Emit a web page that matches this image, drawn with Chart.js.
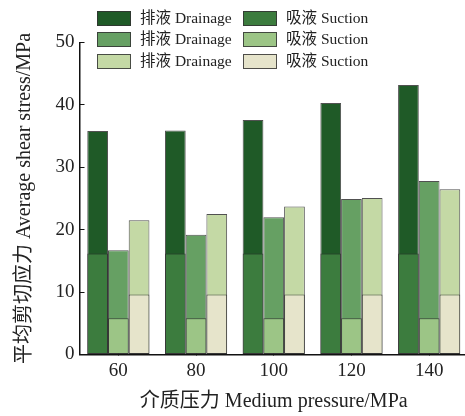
<!DOCTYPE html>
<html>
<head>
<meta charset="utf-8">
<script src="https://cdn.jsdelivr.net/npm/chart.js@4"></script>
<style>
    html, body { margin: 0; padding: 0; background: #fff; overflow: hidden; }
    #wrap { width: 475px; height: 416px; }
</style>
</head>
<body>
<div id="wrap"><canvas id="myChart" width="475" height="416"></canvas></div>
<script>
// 介质压力 Medium pressure/MPa
const categories = ['60', '80', '100', '120', '140'];

// top of each drainage bar (MPa)
const drainage1 = [35.8, 35.9, 37.6, 40.3, 43.2];
const drainage2 = [16.7, 19.2, 22.0, 24.9, 27.8];
const drainage3 = [21.5, 22.5, 23.7, 25.1, 26.5];

// suction part at the bottom of each bar (MPa)
const suction1 = [16.2, 16.2, 16.2, 16.2, 16.2];
const suction2 = [5.8, 5.8, 5.8, 5.8, 5.8];
const suction3 = [9.6, 9.6, 9.6, 9.6, 9.6];

const yTicks = [0, 10, 20, 30, 40, 50];

const serif = "'Liberation Serif', 'Noto Sans CJK SC', serif";
const edge = 'rgba(50, 50, 50, 0.85)';

function bar(label, data, color, stack) {
    return {
        label: label,
        data: data,
        backgroundColor: color,
        borderColor: edge,
        borderWidth: 1,
        borderSkipped: false,
        stack: stack,
        barPercentage: 1.0,
        categoryPercentage: 0.8
    };
}

// suction first so it is painted over the drainage bar of the same stack
const datasets = [
    bar('吸液 Suction', suction1, '#3c7c3e', 'a'),
    bar('吸液 Suction', suction2, '#9cc586', 'b'),
    bar('吸液 Suction', suction3, '#e6e4cb', 'c'),
    bar('排液 Drainage', drainage1, '#1f5a27', 'a'),
    bar('排液 Drainage', drainage2, '#66a063', 'b'),
    bar('排液 Drainage', drainage3, '#c4d9a5', 'c')
];

// legend grid: rows of [drainage, suction]
const legendRows = [[3, 0], [4, 1], [5, 2]];

const gridLegend = {
    id: 'gridLegend',
    afterDraw(chart) {
        const ctx = chart.ctx;
        const colX = [97, 243];
        const rowY = [11, 32, 54];
        ctx.save();
        ctx.font = '15.5px ' + serif;
        ctx.textBaseline = 'middle';
        legendRows.forEach((row, r) => {
            row.forEach((di, c) => {
                const ds = chart.data.datasets[di];
                ctx.fillStyle = ds.backgroundColor;
                ctx.fillRect(colX[c], rowY[r], 34, 15);
                ctx.strokeStyle = edge;
                ctx.lineWidth = 1;
                ctx.strokeRect(colX[c] + 0.5, rowY[r] + 0.5, 33, 14);
                ctx.fillStyle = '#222';
                ctx.fillText(ds.label, colX[c] + 43, rowY[r] + 8);
            });
        });
        ctx.restore();
    }
};

const ctx = document.getElementById('myChart').getContext('2d');
const chart = new Chart(ctx, {
    type: 'bar',
    data: {
        labels: categories,
        datasets: datasets
    },
    options: {
        responsive: false,
        animation: false,
        layout: {
            padding: { top: 42.5, right: 7, bottom: 0, left: 0 }
        },
        plugins: {
            legend: { display: false },
            tooltip: { enabled: false }
        },
        scales: {
            x: {
                stacked: true,
                border: { color: '#111', width: 1.5 },
                grid: {
                    offset: false,
                    drawOnChartArea: false,
                    tickLength: -4,
                    color: '#111'
                },
                ticks: {
                    color: '#222',
                    padding: 9,
                    font: { family: serif, size: 19 }
                },
                title: {
                    display: true,
                    text: '介质压力 Medium pressure/MPa',
                    color: '#222',
                    font: { family: serif, size: 20 },
                    padding: { top: 0, bottom: 2 }
                },
                afterFit: (scale) => { scale.height = 61.5; }
            },
            y: {
                stacked: false,
                min: 0,
                max: 50,
                border: { color: '#111', width: 1.5 },
                grid: {
                    drawOnChartArea: false,
                    tickLength: -5,
                    color: '#111'
                },
                afterBuildTicks: (scale) => {
                    scale.ticks = yTicks.map(v => ({ value: v }));
                },
                ticks: {
                    color: '#222',
                    padding: 10,
                    font: { family: serif, size: 19 }
                },
                title: {
                    display: true,
                    text: '平均剪切应力 Average shear stress/MPa',
                    color: '#222',
                    font: { family: serif, size: 20 },
                    padding: { top: 13, bottom: 0 }
                },
                afterFit: (scale) => { scale.width = 79.5; }
            }
        }
    },
    plugins: [gridLegend]
});
</script>
</body>
</html>
